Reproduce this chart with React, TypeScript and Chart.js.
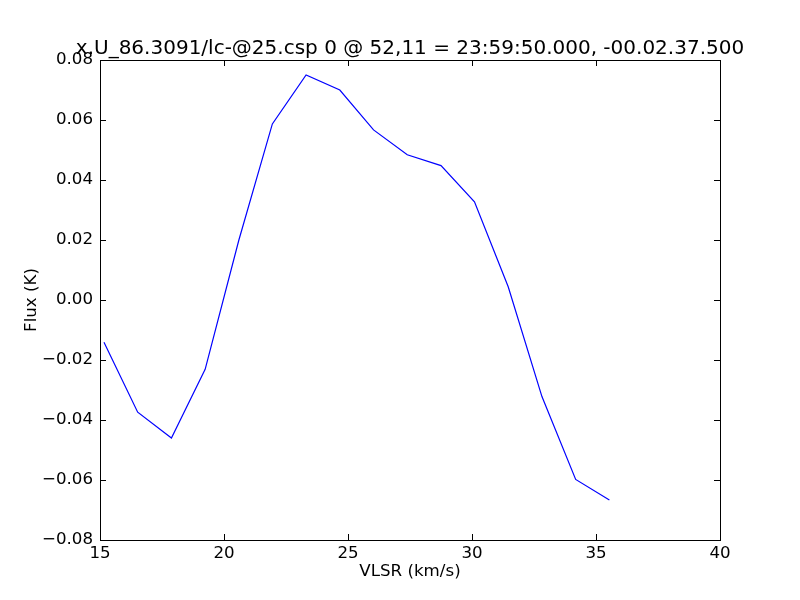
import React, { useEffect, useRef } from "react";
import { Chart, registerables } from "chart.js";

Chart.register(...registerables);

const velocities = [15.16, 16.52, 17.88, 19.24, 20.6, 21.95, 23.31, 24.67, 26.03, 27.39, 28.75, 30.1, 31.46, 32.82, 34.18, 35.54];
const flux = [-0.0141, -0.0374, -0.046, -0.0231, 0.02, 0.0587, 0.075, 0.07, 0.0567, 0.0484, 0.0448, 0.0327, 0.0044, -0.0322, -0.0598, -0.0667];
const titleText = "x.U_86.3091/lc-@25.csp 0 @ 52,11 = 23:59:50.000, -00.02.37.500";
const xLabel = "VLSR (km/s)";
const yLabel = "Flux (K)";

const FONT = "'DejaVu Sans', sans-serif";

const framePlugin = {
  id: "mplFrame",
  afterDraw(chart: any) {
    const { ctx, chartArea } = chart;
    const { left, right, top, bottom } = chartArea;
    const xs = chart.scales.x;
    const ys = chart.scales.y;
    const tl = 6;
    ctx.save();
    ctx.strokeStyle = "#000";
    ctx.lineWidth = 1;
    ctx.strokeRect(Math.round(left) + 0.5, Math.round(top) + 0.5, Math.round(right - left), Math.round(bottom - top));
    ctx.beginPath();
    xs.ticks.forEach((t: any) => {
      const px = Math.round(xs.getPixelForValue(t.value)) + 0.5;
      ctx.moveTo(px, bottom);
      ctx.lineTo(px, bottom - tl);
      ctx.moveTo(px, top);
      ctx.lineTo(px, top + tl);
    });
    ys.ticks.forEach((t: any) => {
      const py = Math.round(ys.getPixelForValue(t.value)) + 0.5;
      ctx.moveTo(left, py);
      ctx.lineTo(left + tl, py);
      ctx.moveTo(right, py);
      ctx.lineTo(right - tl, py);
    });
    ctx.stroke();

    ctx.fillStyle = "#000";
    ctx.font = `20px ${FONT}`;
    ctx.textAlign = "center";
    ctx.textBaseline = "alphabetic";
    ctx.fillText(titleText, (left + right) / 2, top - 6);

    ctx.font = `16.67px ${FONT}`;
    ctx.textBaseline = "middle";
    ctx.fillText(xLabel, (left + right) / 2, 572);

    ctx.translate(32, (top + bottom) / 2);
    ctx.rotate(-Math.PI / 2);
    ctx.fillText(yLabel, 0, 0);
    ctx.restore();
  },
};

export default function App() {
  const ref = useRef<HTMLCanvasElement | null>(null);
  useEffect(() => {
    if (!ref.current) return;
    const chart = new Chart(ref.current, {
      type: "line",
      data: {
        datasets: [
          {
            data: velocities.map((v, i) => ({ x: v, y: flux[i] })),
            borderColor: "#0000ff",
            borderWidth: 1.2,
            pointRadius: 0,
            tension: 0,
            fill: false,
          },
        ],
      },
      options: {
        animation: false,
        responsive: false,
        maintainAspectRatio: false,
        layout: { padding: { top: 60, right: 80, left: 0, bottom: 0 } },
        plugins: { legend: { display: false }, title: { display: false }, tooltip: { enabled: false } },
        scales: {
          x: {
            type: "linear",
            min: 15,
            max: 40,
            grid: { display: false, drawTicks: false, tickLength: 0 },
            border: { display: false },
            ticks: {
              stepSize: 5,
              padding: 4,
              color: "#000",
              font: { family: FONT, size: 16.67 },
              maxRotation: 0,
              callback: (v: any) => String(v),
            },
            afterFit: (s: any) => {
              s.height = 60;
            },
          },
          y: {
            type: "linear",
            min: -0.08,
            max: 0.08,
            grid: { display: false, drawTicks: false, tickLength: 0 },
            border: { display: false },
            ticks: {
              stepSize: 0.02,
              padding: 7,
              color: "#000",
              font: { family: FONT, size: 16.67 },
              callback: (v: any) => {
                const n = Number(v);
                if (Math.abs(n) < 1e-9) return "0.00";
                return (n < 0 ? "\u2212" : "") + Math.abs(n).toFixed(2);
              },
            },
            afterFit: (s: any) => {
              s.width = 100;
            },
          },
        },
      },
      plugins: [framePlugin],
    });
    return () => chart.destroy();
  }, []);
  return (
    <div style={{ position: "fixed", left: 0, top: 0, width: 800, height: 600, background: "#fff" }}>
      <canvas ref={ref} width={800} height={600} style={{ width: 800, height: 600 }} />
    </div>
  );
}
